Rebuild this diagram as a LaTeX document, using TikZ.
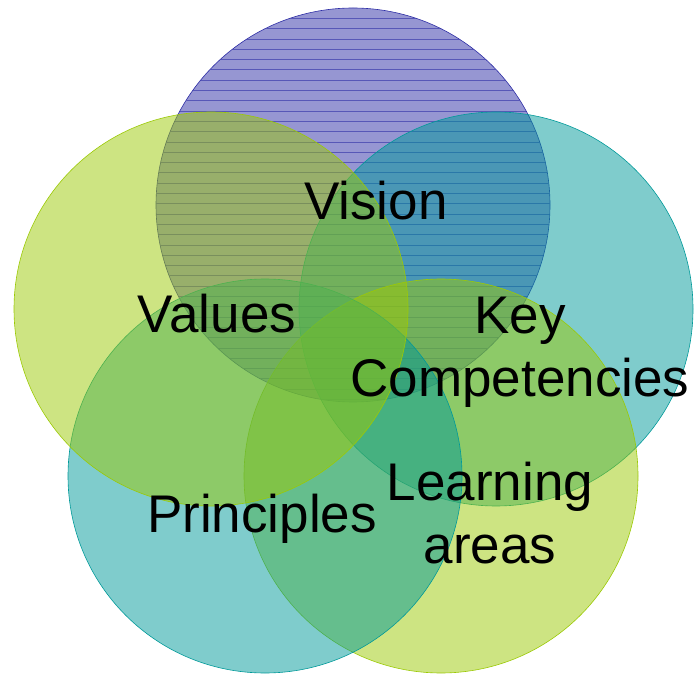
\documentclass[tikz,border=0pt]{standalone}
\usepackage{fontspec}
\setmainfont{Liberation Sans}
\usetikzlibrary{positioning}
\definecolor{visionblue}{RGB}{45,45,165}
\definecolor{limegreen}{RGB}{155,201,5}
\definecolor{tealblue}{RGB}{0,153,153}
\tikzset{
  basic/.style        = {circle, minimum size=394pt, inner sep=0pt, line width=0.6pt,
                         fill opacity=0.5},
  visioncircle/.style = {basic, draw=visionblue, fill=visionblue},
  limecircle/.style   = {basic, draw=limegreen, fill=limegreen},
  tealcircle/.style   = {basic, draw=tealblue, fill=tealblue},
  circletext/.style   = {font=\fontsize{53}{63}\selectfont, align=center,
                         inner sep=0pt, text=black},
  hatch/.style        = {visionblue, line width=0.7pt, opacity=0.6}
}

\begin{document}
\begin{tikzpicture}[x=1pt, y=1pt]
\useasboundingbox (0,0) rectangle (698,675);

% the five circles, from back to front
\node[visioncircle] (vision) at (353,470) {};

% horizontal lines inside the vision circle
\begin{scope}
  \clip (vision.center) circle (196.6);
  \foreach \k in {0,...,38}
    \draw[hatch] (150,656.7-\k*10.3) -- (560,656.7-\k*10.3);
\end{scope}

\node[tealcircle] (key) at (496,366) {};
\node[limecircle] (learning) at (441,199) {};
\node[tealcircle] (principles) at (265,199) {};
\node[limecircle] (values) at (211,366) {};

% the texts (base is the last line)
\node[circletext, anchor=base] (visiontext) at (376,455) {Vision};
\node[circletext, anchor=base] (valuestext) at (217,342) {Values};
\node[circletext, anchor=base] (keytext) at (520,278) {Key\\Competencies};
\node[circletext, anchor=base] (principlestext) at (262,143) {Principles};
\node[circletext, anchor=base] (learningtext) at (490,112) {Learning\\areas};
\end{tikzpicture}
\end{document}
